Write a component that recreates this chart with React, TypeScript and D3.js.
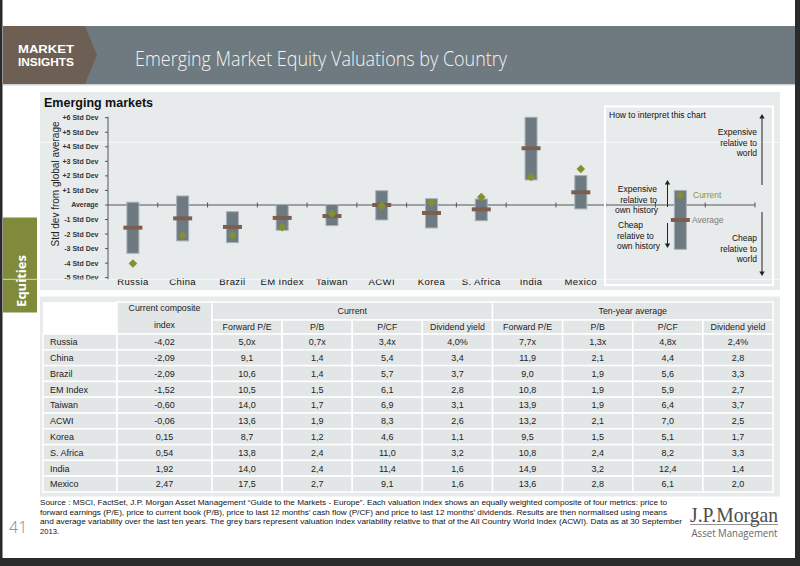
import React from "react";
import * as d3 from "d3";

const countries = ["Russia", "China", "Brazil", "EM Index", "Taiwan", "ACWI", "Korea", "S. Africa", "India", "Mexico"];
const rangeHigh = [0.19, 0.62, -0.46, 0.04, 0.03, 0.98, 0.43, 0.41, 6.03, 2.02];
const rangeLow = [-3.32, -2.47, -2.59, -1.74, -1.42, -1.03, -1.58, -1.08, 1.72, -0.27];
const tenYearAvg = [-1.56, -0.92, -1.51, -0.89, -0.76, 0.0, -0.55, -0.3, 3.9, 0.87];
const currentValue = [-4.02, -2.09, -2.09, -1.52, -0.6, -0.06, 0.15, 0.54, 1.92, 2.47];

const exampleHigh = 1.0;
const exampleLow = -3.05;
const exampleAvg = -1.03;
const exampleCurrent = 0.67;

const yTicks = [6, 5, 4, 3, 2, 1, 0, -1, -2, -3, -4, -5];
const yTickLabels = ["+6 Std Dev", "+5 Std Dev", "+4 Std Dev", "+3 Std Dev", "+2 Std Dev", "+1 Std Dev", "Average", "-1 Std Dev", "-2 Std Dev", "-3 Std Dev", "-4 Std Dev", "-5 Std Dev"];

const tableColumns = ["Forward P/E", "P/B", "P/CF", "Dividend yield"];
const compositeIndex = ["-4,02", "-2,09", "-2,09", "-1,52", "-0,60", "-0,06", "0,15", "0,54", "1,92", "2,47"];
const curForwardPE = ["5,0x", "9,1", "10,6", "10,5", "14,0", "13,6", "8,7", "13,8", "14,0", "17,5"];
const curPB = ["0,7x", "1,4", "1,4", "1,5", "1,7", "1,9", "1,2", "2,4", "2,4", "2,7"];
const curPCF = ["3,4x", "5,4", "5,7", "6,1", "6,9", "8,3", "4,6", "11,0", "11,4", "9,1"];
const curDivYield = ["4,0%", "3,4", "3,7", "2,8", "3,1", "2,6", "1,1", "3,2", "1,6", "1,6"];
const avgForwardPE = ["7,7x", "11,9", "9,0", "10,8", "13,9", "13,2", "9,5", "10,8", "14,9", "13,6"];
const avgPB = ["1,3x", "2,1", "1,9", "1,9", "1,9", "2,1", "1,5", "2,4", "3,2", "2,8"];
const avgPCF = ["4,8x", "4,4", "5,6", "5,9", "6,4", "7,0", "5,1", "8,2", "12,4", "6,1"];
const avgDivYield = ["2,4%", "2,8", "3,3", "2,7", "3,7", "2,5", "1,7", "3,3", "1,4", "2,0"];

const sourceLines = [
  "Source : MSCI, FactSet, J.P. Morgan Asset Management \u201cGuide to the Markets - Europe\u201d. Each valuation index shows an equally weighted composite of four metrics: price to",
  "forward earnings (P/E), price to current book (P/B), price to last 12 months\u2019 cash flow (P/CF) and price to last 12 months\u2019 dividends. Results are then normalised using means",
  "and average variability over the last ten years. The grey bars represent valuation index variability relative to that of the All Country World Index (ACWI). Data as at 30 September",
  "2013.",
];
const sourceWidths = [627, 627, 642, 0];

const SANS = "'Liberation Sans', Arial, sans-serif";
const BAR = "#6d7a82";
const BAR_STROKE = "#a9b2b7";
const BROWN = "#7a5f51";
const GREEN = "#84902e";
const PANEL = "#e8ebec";

export default function App() {
  const slots = [...countries, "gap", "example", "right"];
  const x = d3.scaleBand<string>().domain(slots).range([108, 755]).padding(0);
  const y = d3.scaleLinear().domain([-5, 6]).range([277.7, 117.7]);
  const y0 = y(0);
  const barW = 12;
  const markW = 19;
  const dia = 4.3;

  const diamond = (cx: number, cy: number) =>
    `M${cx},${cy - dia} L${cx + dia},${cy} L${cx},${cy + dia} L${cx - dia},${cy} Z`;

  // table geometry
  const colEdges = [43, 117, 212];
  const dataColW = (773 - 212) / 8;
  for (let i = 1; i <= 8; i++) colEdges.push(212 + i * dataColW);
  const head1Top = 302, head2Top = 320, dataTop = 334, rowH = 15.8;
  const tableCols = [curForwardPE, curPB, curPCF, curDivYield, avgForwardPE, avgPB, avgPCF, avgDivYield];
  const tableRows = countries.map((c, i) => [c, compositeIndex[i], ...tableCols.map((col) => col[i])]);

  const cellFill = "#e3e6e7";

  const exCx = (x("example") as number) + x.bandwidth() / 2;

  return (
    <svg width={800} height={566} style={{ position: "absolute", left: 0, top: 0, background: "#fff" }} fontFamily={SANS}>
      <rect x={0} y={0} width={800} height={566} fill="#ffffff" />
      {/* header */}
      <rect x={3} y={26} width={792} height={58} fill="#6e7a80" />
      <polygon points="3,26 85,26 97,55 85,84 3,84" fill="#6e5f55" />
      <line x1={3} x2={795} y1={84.8} y2={84.8} stroke="#cdd2d4" strokeWidth={1.5} />
      <text x={18} y={53.2} fill="#fff" fontFamily={SANS} fontWeight={700} fontSize={11.5} textLength={56} lengthAdjust="spacingAndGlyphs">MARKET</text>
      <text x={18} y={66.4} fill="#fff" fontFamily={SANS} fontWeight={700} fontSize={11.5} textLength={56} lengthAdjust="spacingAndGlyphs">INSIGHTS</text>
      <text x={135} y={65.5} fill="#f4f4f4" fontFamily="'Open Sans', sans-serif" fontWeight={300} fontSize={19.5} textLength={372} lengthAdjust="spacingAndGlyphs">Emerging Market Equity Valuations by Country</text>

      {/* Equities tab */}
      <rect x={3} y={217.5} width={34} height={95} fill="#7f8b3a" />
      <text transform="translate(25.5,281) rotate(-90)" textAnchor="middle" fill="#fff" fontFamily="'Open Sans', sans-serif" fontWeight={700} fontSize={13}>Equities</text>

      {/* chart panel */}
      <rect x={40} y={92} width={740} height={198} fill={PANEL} />
      <line x1={40} x2={780} y1={142.3} y2={142.3} stroke="#ffffff" strokeWidth={1} opacity={0.8} />
      <text x={44} y={107} fontWeight={700} fontSize={12.5} fill="#111">Emerging markets</text>
      <text transform="translate(59,184) rotate(-90)" textAnchor="middle" fontSize={10} fill="#222">Std dev from global average</text>

      {/* y axis */}
      <line x1={108} x2={108} y1={y(6) - 1} y2={y(-5) + 2} stroke="#555" strokeWidth={1} />
      {yTicks.map((t, i) => (
        <g key={t}>
          <line x1={105} x2={108} y1={y(t)} y2={y(t)} stroke="#555" strokeWidth={1} />
          <text x={98.5} y={y(t) + 2.5} textAnchor="end" fontSize={7} fontWeight={700} fill="#333">{yTickLabels[i]}</text>
        </g>
      ))}

      {/* x axis */}
      <line x1={108} x2={755} y1={y0} y2={y0} stroke="#555" strokeWidth={1.1} />
      {slots.map((s) => {
        const bx = (x(s) as number) + x.bandwidth();
        return <line key={s} x1={bx} x2={bx} y1={y0 - 2.5} y2={y0 + 2.5} stroke="#555" strokeWidth={1} />;
      })}

      {/* bars */}
      {countries.map((c, i) => {
        const cx = (x(c) as number) + x.bandwidth() / 2;
        return (
          <g key={c}>
            <rect x={cx - barW / 2} y={y(rangeHigh[i])} width={barW} height={y(rangeLow[i]) - y(rangeHigh[i])} fill={BAR} stroke={BAR_STROKE} strokeWidth={1} />
            <rect x={cx - markW / 2} y={y(tenYearAvg[i]) - 2} width={markW} height={4} fill={BROWN} />
            <path d={diamond(cx, y(currentValue[i]))} fill={GREEN} />
            <text x={cx} y={284.5} textAnchor="middle" fontSize={9.5} letterSpacing={0.4} fill="#111">{c}</text>
          </g>
        );
      })}

      {/* interpretation box */}
      <rect x={605} y={106.5} width={168} height={178.5} fill="none" stroke="#ffffff" strokeWidth={2} />
      <text x={609} y={118} fontSize={8.5} fill="#111">How to interpret this chart</text>
      <rect x={exCx - barW / 2} y={y(exampleHigh)} width={barW} height={y(exampleLow) - y(exampleHigh)} fill={BAR} stroke={BAR_STROKE} strokeWidth={1} />
      <rect x={exCx - markW / 2} y={y(exampleAvg) - 2} width={markW} height={4} fill={BROWN} />
      <path d={diamond(exCx, y(exampleCurrent))} fill={GREEN} />
      <text x={693} y={198} fontSize={8.5} fill="#8a962f">Current</text>
      <text x={692} y={223} fontSize={8.5} fill="#7a7a7a">Average</text>
      <g fontSize={8.5} fill="#111" textAnchor="end">
        <text x={657} y={192}>Expensive</text>
        <text x={657} y={202.5}>relative to</text>
        <text x={658} y={213}>own history</text>
      </g>
      <g fontSize={8.5} fill="#111">
        <text x={618} y={228}>Cheap</text>
        <text x={617} y={238.5}>relative to</text>
        <text x={617} y={249}>own history</text>
      </g>
      <g fontSize={8.5} fill="#111" textAnchor="end">
        <text x={757} y={135}>Expensive</text>
        <text x={757} y={145.5}>relative to</text>
        <text x={757} y={156}>world</text>
        <text x={757} y={241}>Cheap</text>
        <text x={757} y={251.5}>relative to</text>
        <text x={757} y={262}>world</text>
      </g>
      {/* arrows */}
      <g stroke="#222" strokeWidth={1} fill="#222">
        <line x1={667.5} x2={667.5} y1={207} y2={184} />
        <path d="M664.8,184.5 L667.5,180 L670.2,184.5 Z" stroke="none" />
        <line x1={667.5} x2={667.5} y1={223} y2={244} />
        <path d="M664.8,243.5 L667.5,248 L670.2,243.5 Z" stroke="none" />
        <line x1={762} x2={762} y1={185} y2={118} />
        <path d="M759.3,118.5 L762,114 L764.7,118.5 Z" stroke="none" />
        <line x1={762} x2={762} y1={212} y2={272} />
        <path d="M759.3,271.5 L762,276 L764.7,271.5 Z" stroke="none" />
      </g>

      {/* table panel */}
      <rect x={40} y={296.5} width={740} height={200} fill={PANEL} />
      <line x1={3} x2={780} y1={279.3} y2={279.3} stroke="#ffffff" strokeWidth={1} opacity={0.7} />
      {/* header cells */}
      <rect x={colEdges[0]} y={head1Top} width={colEdges[1] - colEdges[0]} height={dataTop - head1Top} fill="#ffffff" />
      <rect x={colEdges[1]} y={head1Top} width={colEdges[2] - colEdges[1]} height={dataTop - head1Top} fill={cellFill} stroke="#fff" strokeWidth={1.5} />
      <rect x={colEdges[2]} y={head1Top} width={colEdges[6] - colEdges[2]} height={head2Top - head1Top} fill={cellFill} stroke="#fff" strokeWidth={1.5} />
      <rect x={colEdges[6]} y={head1Top} width={colEdges[10] - colEdges[6]} height={head2Top - head1Top} fill={cellFill} stroke="#fff" strokeWidth={1.5} />
      {d3.range(8).map((j) => (
        <g key={j}>
          <rect x={colEdges[2 + j]} y={head2Top} width={dataColW} height={dataTop - head2Top} fill={cellFill} stroke="#fff" strokeWidth={1.5} />
          <text x={colEdges[2 + j] + dataColW / 2} y={330} textAnchor="middle" fontSize={8.8} fill="#222">{tableColumns[j % 4]}</text>
        </g>
      ))}
      <text textAnchor="middle" fontSize={8.8} fill="#222">
        <tspan x={(colEdges[1] + colEdges[2]) / 2} y={311}>Current composite</tspan>
        <tspan x={(colEdges[1] + colEdges[2]) / 2} y={327.5}>index</tspan>
      </text>
      <text x={(colEdges[2] + colEdges[6]) / 2} y={313.5} textAnchor="middle" fontSize={8.8} fill="#222">Current</text>
      <text x={(colEdges[6] + colEdges[10]) / 2} y={313.5} textAnchor="middle" fontSize={8.8} fill="#222">Ten-year average</text>
      {/* data cells */}
      {tableRows.map((row, i) => (
        <g key={i}>
          {row.map((v, j) => {
            const x0 = colEdges[j];
            const w = colEdges[j + 1] - x0;
            const ry = dataTop + i * rowH;
            return (
              <g key={j}>
                <rect x={x0} y={ry} width={w} height={rowH} fill={cellFill} stroke="#fff" strokeWidth={1.5} />
                <text x={j === 0 ? x0 + 7 : x0 + w / 2} y={ry + rowH / 2 + 3.2} textAnchor={j === 0 ? "start" : "middle"} fontSize={9} fill="#222">{v}</text>
              </g>
            );
          })}
        </g>
      ))}

      {/* source */}
      {sourceLines.map((l, i) => (
        <text key={i} x={40} y={505 + i * 9.5} fontSize={7.6} fill="#111" {...(sourceWidths[i] ? { textLength: sourceWidths[i], lengthAdjust: "spacingAndGlyphs" } : {})}>{l}</text>
      ))}
      <text x={9} y={533} fontSize={16} fill="#888" fontFamily="'Open Sans', sans-serif" fontWeight={300}>41</text>

      {/* logo */}
      <text x={690} y={522} fontFamily="'Liberation Serif', 'Times New Roman', serif" fontSize={21} fill="#4d4d4d" textLength={88} lengthAdjust="spacingAndGlyphs">J.P.Morgan</text>
      <line x1={690} x2={778} y1={524.5} y2={524.5} stroke="#777" strokeWidth={0.8} />
      <text x={691.5} y={537} fontFamily="'Open Sans', sans-serif" fontSize={10} fill="#666" textLength={86} lengthAdjust="spacingAndGlyphs">Asset Management</text>

      {/* dark frame */}
      <rect x={0} y={0} width={2.5} height={566} fill="#2a2a2a" />
      <rect x={795} y={0} width={5} height={566} fill="#2a2a2a" />
      <rect x={0} y={558} width={800} height={8} fill="#2a2a2a" />
    </svg>
  );
}
